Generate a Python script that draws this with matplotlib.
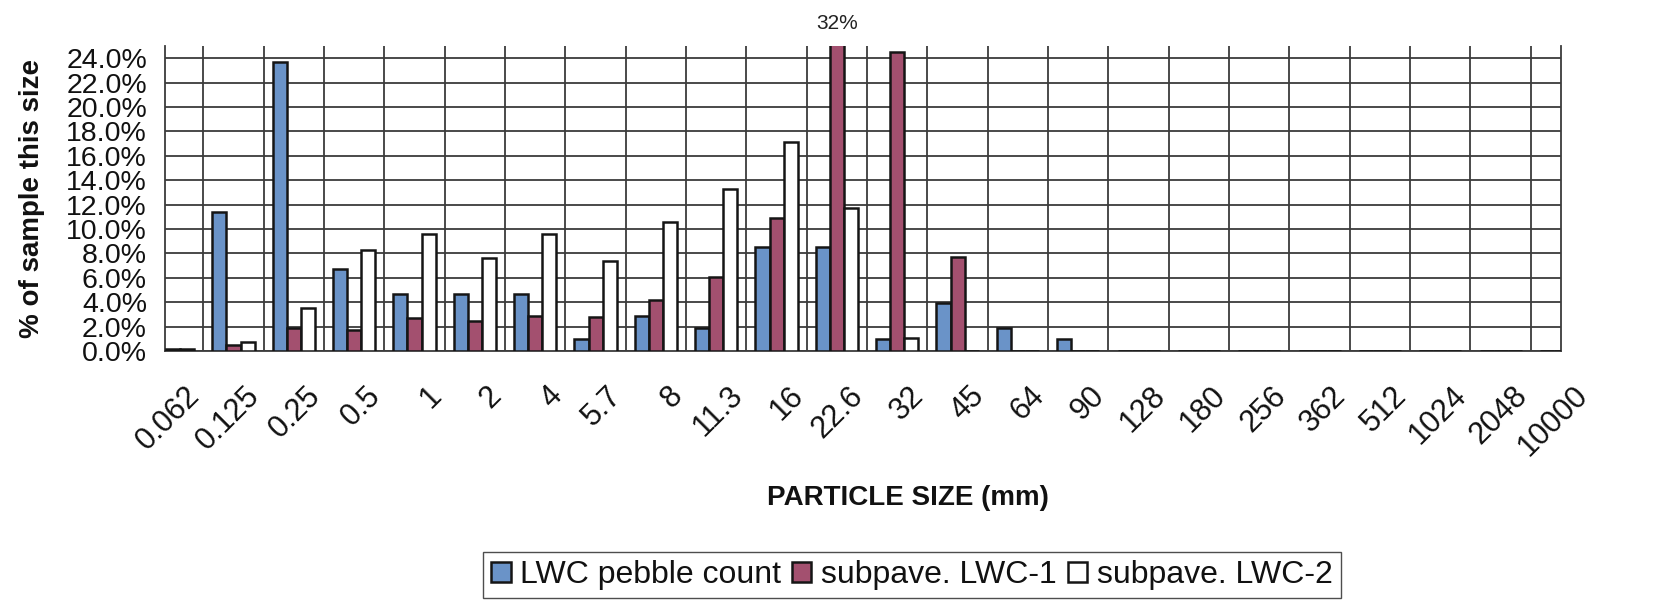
import matplotlib
matplotlib.use("Agg")
import matplotlib.pyplot as plt
import numpy as np
from matplotlib.ticker import FuncFormatter, FixedLocator
import matplotlib.transforms as mtrans

# ---- data ----
sizes = ["0.062", "0.125", "0.25", "0.5", "1", "2", "4", "5.7", "8", "11.3", "16",
         "22.6", "32", "45", "64", "90", "128", "180", "256", "362", "512", "1024",
         "2048", "10000"]
pebble = [0.0, 11.4, 23.7, 6.7, 4.7, 4.7, 4.7, 1.0, 2.9, 1.9, 8.5, 8.5, 1.0, 3.9,
          1.9, 1.0, 0, 0, 0, 0, 0, 0, 0, 0]
lwc1 = [0.2, 0.5, 1.9, 1.7, 2.7, 2.5, 2.9, 2.8, 4.2, 6.1, 10.9, 32.0, 24.5, 7.7,
        0, 0, 0, 0, 0, 0, 0, 0, 0, 0]
lwc2 = [0.2, 0.7, 3.5, 8.3, 9.6, 7.6, 9.6, 7.4, 10.6, 13.3, 17.1, 11.7, 1.1, 0,
        0, 0, 0, 0, 0, 0, 0, 0, 0, 0]
series_names = ["LWC pebble count", "subpave. LWC-1", "subpave. LWC-2"]
y_ticks = [0, 2, 4, 6, 8, 10, 12, 14, 16, 18, 20, 22, 24]
y_max = 25

plt.rcParams['font.family'] = ['Liberation Sans', 'DejaVu Sans']

W, H = 1658, 608
fig = plt.figure(figsize=(W / 100, H / 100), dpi=100)
ax = fig.add_axes([165 / W, 1 - 351 / H, 1396 / W, (351 - 46) / H])

x = np.arange(len(sizes))
bw = 0.233
colors = ['#6A93C8', '#A3506F', '#FFFFFF']
all_series = [pebble, lwc1, lwc2]
for k, (vals, col, name) in enumerate(zip(all_series, colors, series_names)):
    ax.bar(x + (k - 1) * bw, vals, width=bw, color=col, edgecolor='#151515',
           linewidth=1.8, label=name, zorder=3)
    for xi, v in zip(x, vals):
        if v > y_max:
            ax.annotate(f"{v:.0f}%", xy=(xi + (k - 1) * bw, y_max), xytext=(0, 16.5),
                        textcoords='offset points', ha='center', va='center',
                        fontsize=15, color='#222222', annotation_clip=False)

ax.set_xlim(-0.135, len(sizes) - 1)
ax.set_ylim(0, y_max)

grid_col = '#3c3c3c'
ax.tick_params(axis='x', which='both', length=0, pad=29, labelsize=22,
               labelcolor='#111111')
ax.tick_params(axis='y', length=0, pad=13, labelsize=20.5, labelcolor='#111111')
ax.yaxis.set_major_locator(FixedLocator(y_ticks))
ax.yaxis.set_major_formatter(FuncFormatter(lambda v, p: f"{v:.1f}%"))
ax.set_xticks(x)
ax.set_xticklabels(sizes, rotation=45, ha='right', va='center',
                   rotation_mode='anchor', fontsize=22)
ax.xaxis.set_minor_locator(FixedLocator(np.arange(0.5, len(sizes) - 1, 0.5)))
ax.grid(True, which='minor', axis='x', color=grid_col, lw=1.3, zorder=0)
ax.grid(True, which='major', axis='y', color=grid_col, lw=1.3, zorder=0)

offset = mtrans.ScaledTranslation(22 / 100, 0, fig.dpi_scale_trans)
for lab in ax.get_xticklabels():
    lab.set_transform(lab.get_transform() + offset)

ax.spines['top'].set_visible(False)
for s in ['left', 'bottom', 'right']:
    ax.spines[s].set_color(grid_col)
    ax.spines[s].set_linewidth(1.3)

fig.text(32 / W, 1 - 199 / H, "% of sample this size", rotation=90, ha='center',
         va='center', fontsize=20, fontweight='bold', color='#111111')
fig.text(908 / W, 1 - 498 / H, "PARTICLE SIZE (mm)", ha='center', va='center',
         fontsize=20, fontweight='bold', color='#111111')

leg = fig.legend(loc='center', bbox_to_anchor=(912 / W, 1 - 575 / H), ncol=3,
                 fontsize=23, frameon=True, fancybox=False, shadow=False,
                 handlelength=0.6, handleheight=0.6, handletextpad=0.3,
                 columnspacing=0.35, borderpad=0.25, borderaxespad=0)
leg.get_frame().set_edgecolor('#222222')
leg.get_frame().set_linewidth(1.0)
for t in leg.get_texts():
    t.set_color('#111111')

fig.savefig("out.png", dpi=100)
